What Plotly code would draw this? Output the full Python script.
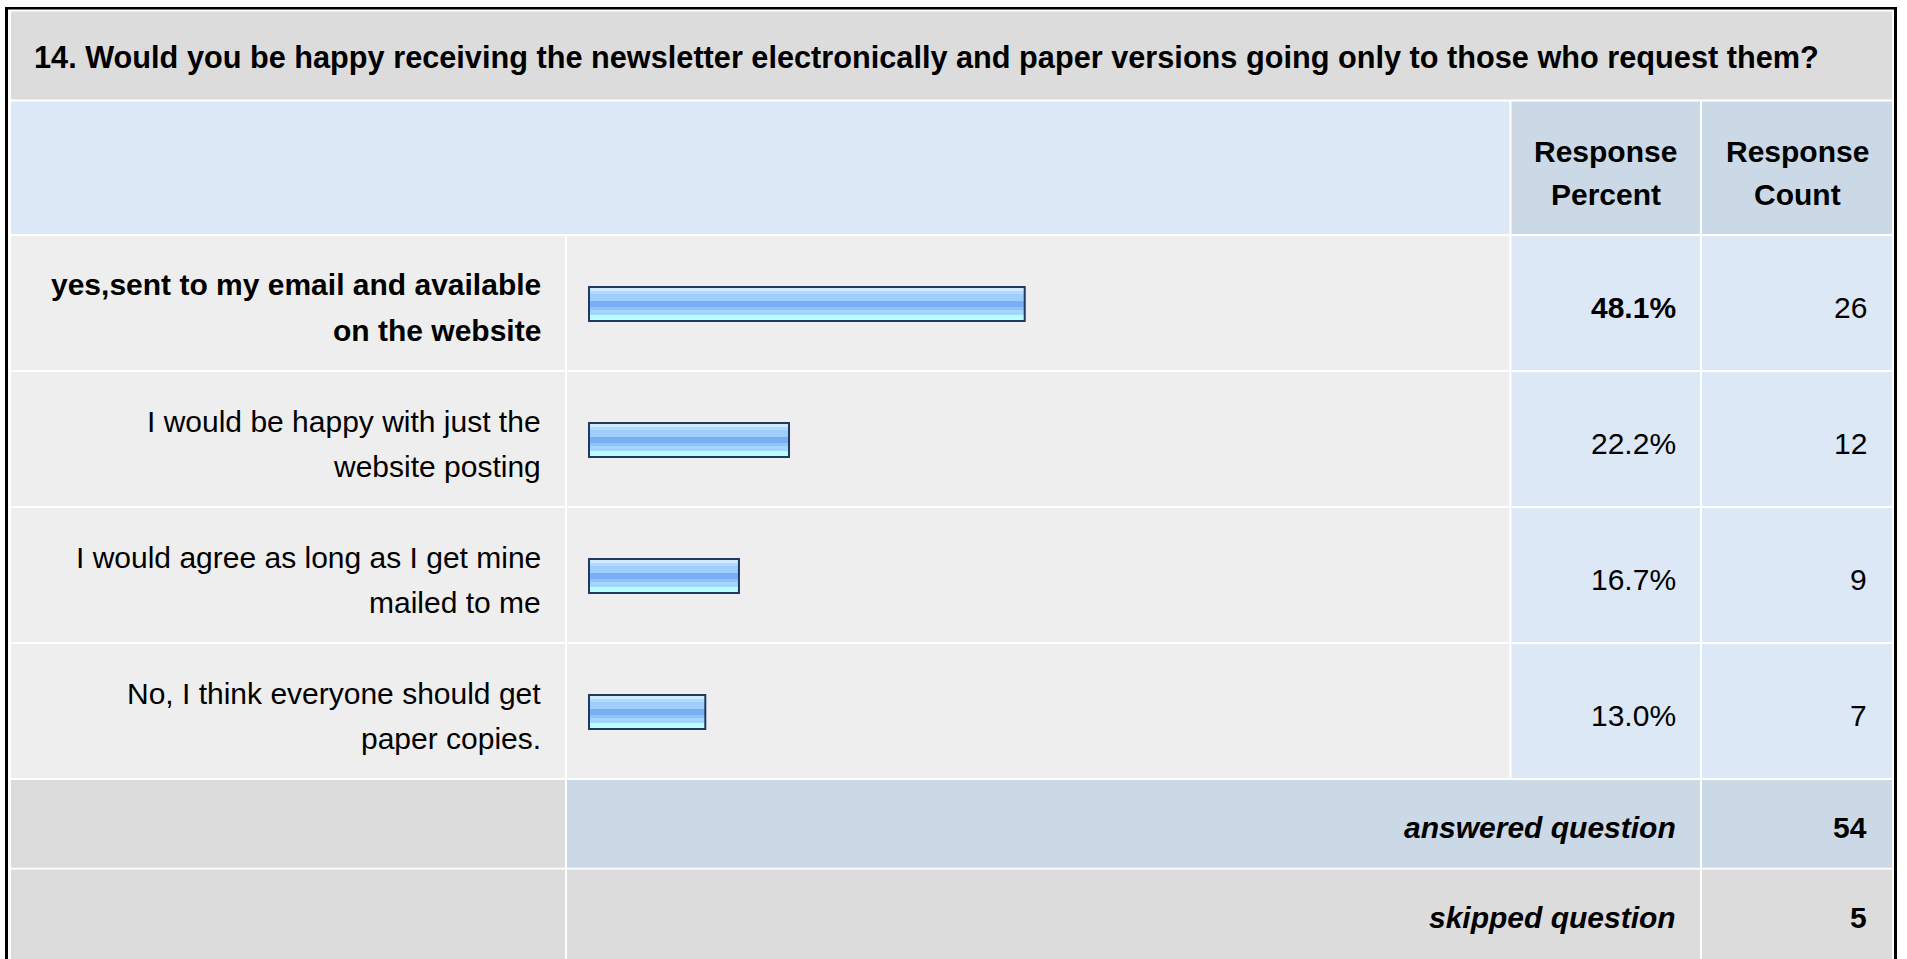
import plotly.graph_objects as go

# ---------------- data ----------------
question = ("14. Would you be happy receiving the newsletter electronically and "
            "paper versions going only to those who request them?")
answer_labels = [
    "yes,sent to my email and available<br>on the website",
    "I would be happy with just the<br>website posting",
    "I would agree as long as I get mine<br>mailed to me",
    "No, I think everyone should get<br>paper copies.",
]
response_percent = [48.1, 22.2, 16.7, 13.0]
response_count = [26, 12, 9, 7]
column_headers = ["Response<br>Percent", "Response<br>Count"]
summary_labels = ["answered question", "skipped question"]
summary_values = [54, 5]

# ---------------- geometry helpers ----------------
W, H = 1907, 959
FONT = "Liberation Sans, Arial, sans-serif"
FS = 30


def px(x):
    return x / W


def py(y):
    return 1 - y / H


shapes = []
annotations = []


def rect(x0, y0, x1, y1, color):
    shapes.append(dict(type="rect", xref="paper", yref="paper",
                       x0=px(x0), x1=px(x1), y0=py(y1), y1=py(y0),
                       fillcolor=color, line=dict(width=0), layer="below"))


def text(s, x, y, xanchor, bold=False, italic=False, spacing=45, size=FS):
    lines = s.split("<br>")
    n = len(lines)
    for i, ln in enumerate(lines):
        yy = y + (i - (n - 1) / 2) * spacing
        annotations.append(dict(
            text=ln, x=px(x), y=py(yy), xref="paper", yref="paper",
            xanchor=xanchor, yanchor="middle", showarrow=False,
            font=dict(family=FONT, size=size, color="#000000",
                      weight="bold" if bold else "normal",
                      style="italic" if italic else "normal")))


GRAY = "#dcdcdc"
LIGHT = "#eeeeee"
BLUE = "#dce8f5"
BLUE2 = "#cbd8e6"

# columns
C0 = (11, 565)
C1 = (567, 1509.5)
C2 = (1511.5, 1700)
C3 = (1702, 1892)

# outer frame
rect(5, 7, 1897, 970, "#000000")
rect(8, 9.5, 1894, 970, "#ffffff")

# title row
rect(11, 11.5, 1892, 99.5, GRAY)
# header row
rect(C0[0], 101.5, C1[1], 234, BLUE)
rect(C2[0], 101.5, C2[1], 234, BLUE2)
rect(C3[0], 101.5, C3[1], 234, BLUE2)

ROW0, ROWH = 236, 136
n = len(answer_labels)
for i in range(n):
    y0 = ROW0 + i * ROWH
    y1 = y0 + ROWH - 2
    rect(C0[0], y0, C0[1], y1, LIGHT)
    rect(C1[0], y0, C1[1], y1, LIGHT)
    rect(C2[0], y0, C2[1], y1, BLUE)
    rect(C3[0], y0, C3[1], y1, BLUE)

# summary rows
rect(C0[0], 780, C0[1], 867.7, GRAY)
rect(C1[0], 780, C2[1], 867.7, BLUE2)
rect(C3[0], 780, C3[1], 867.7, BLUE2)
rect(C0[0], 869.5, C0[1], 970, GRAY)
rect(C1[0], 869.5, C2[1], 970, GRAY)
rect(C3[0], 869.5, C3[1], 970, GRAY)

# ---------------- text ----------------
text(question, 32, 57, "left", bold=True, size=30.7)
text(column_headers[0], (C2[0] + C2[1]) / 2, 173, "center", bold=True, spacing=44)
text(column_headers[1], (C3[0] + C3[1]) / 2, 173, "center", bold=True, spacing=44)

top = max(response_percent)
for i, (lab, p, c) in enumerate(zip(answer_labels, response_percent, response_count)):
    rc = ROW0 + i * ROWH + (ROWH - 2) / 2
    is_top = p == top
    text(lab, 543, rc + 4.5, "right", bold=is_top)
    text(f"{p:.1f}%", 1678, rc + 4.5, "right", bold=is_top)
    text(f"{c}", 1869, rc + 4.5, "right")

text(summary_labels[0], 1678, 827, "right", bold=True, italic=True)
text(f"{summary_values[0]}", 1869, 827, "right", bold=True)
text(summary_labels[1], 1678, 917, "right", bold=True, italic=True)
text(f"{summary_values[1]}", 1869, 917, "right", bold=True)

# ---------------- bars (layered bands for the glossy look) ----------------
PX_PER_PCT = 9.1          # 100 % = 910 px
INSET = 2 / PX_PER_PCT    # 2 px frame
bands = [
    (-18, 18, "#1f3a60"),
    (-16, -13, "#cfe9ff"),
    (-13, -10, "#b0d9ff"),
    (-10, -3, "#9ecefc"),
    (-3, 3, "#7aaef2"),
    (3, 6, "#8ec2f8"),
    (6, 11, "#a2d6ff"),
    (11, 16, "#b6feff"),
]
rows = list(range(n))
fig = go.Figure()
for k, (t, b, col) in enumerate(bands):
    if k == 0:
        xs = response_percent
        base = [0] * n
    else:
        xs = [p - 2 * INSET for p in response_percent]
        base = [INSET] * n
    fig.add_trace(go.Bar(
        x=xs, y=rows, base=base, orientation="h",
        width=[(b - t) / ROWH] * n, offset=[t / ROWH] * n,
        marker=dict(color=col, line=dict(width=0)),
        hoverinfo="skip", showlegend=False))

fig.update_layout(
    width=W, height=H, autosize=False,
    margin=dict(l=0, r=0, t=0, b=0, pad=0),
    paper_bgcolor="#ffffff", plot_bgcolor="rgba(0,0,0,0)",
    barmode="overlay",
    xaxis=dict(domain=[px(588), px(1498)], range=[0, 100], visible=False, fixedrange=True),
    yaxis=dict(domain=[py(ROW0 + n * ROWH), py(ROW0)], range=[n - 0.5, -0.5],
               visible=False, fixedrange=True),
    shapes=shapes, annotations=annotations,
)

fig.write_html("out.html", config={"displayModeBar": False},
               post_script="document.body.style.margin='0';document.body.style.overflow='hidden';")
